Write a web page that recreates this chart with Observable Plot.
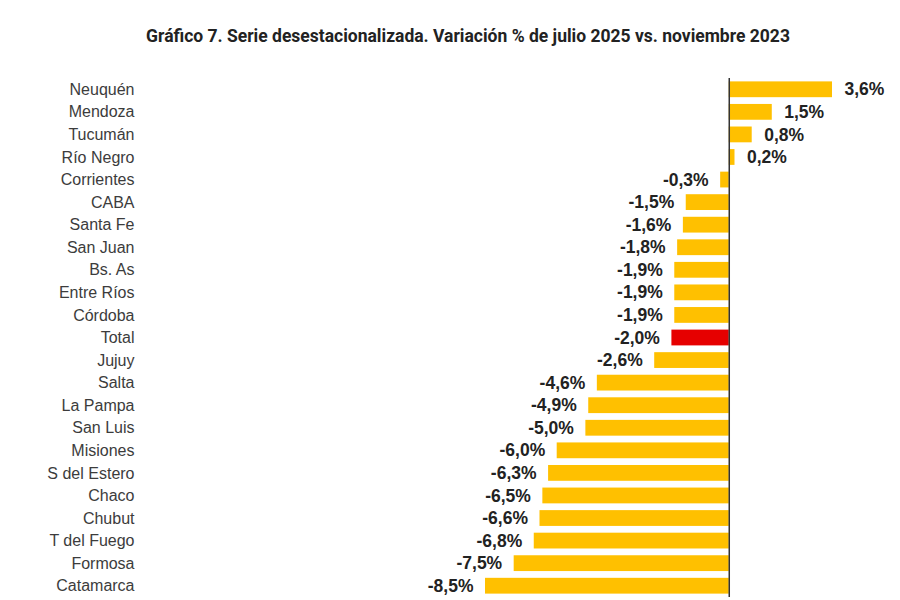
<!DOCTYPE html>
<html><head><meta charset="utf-8">
<script src="https://cdn.jsdelivr.net/npm/d3@7"></script>
<script src="https://cdn.jsdelivr.net/npm/@observablehq/plot@0.6"></script>
<style>
html,body{margin:0;background:#fff;overflow:hidden;}
#title{height:60px;box-sizing:border-box;padding-top:26px;padding-left:36px;text-align:center;font-family:"Liberation Sans Narrow","Roboto","Liberation Sans",sans-serif;font-weight:bold;font-size:17.5px;color:#222;}
#chart svg{display:block;}
</style></head>
<body>
<div id="title">Gráfico 7. Serie desestacionalizada. Variación % de julio 2025 vs. noviembre 2023</div>
<div id="chart"></div>
<script>
const provincias = ["Neuquén","Mendoza","Tucumán","Río Negro","Corrientes","CABA","Santa Fe","San Juan","Bs. As","Entre Ríos","Córdoba","Total","Jujuy","Salta","La Pampa","San Luis","Misiones","S del Estero","Chaco","Chubut","T del Fuego","Formosa","Catamarca"];
const variacion = [3.6,1.5,0.8,0.2,-0.3,-1.5,-1.6,-1.8,-1.9,-1.9,-1.9,-2.0,-2.6,-4.6,-4.9,-5.0,-6.0,-6.3,-6.5,-6.6,-6.8,-7.5,-8.5];
const data = provincias.map((p,i)=>({provincia:p, valor:variacion[i]}));
const fmt = v => v.toFixed(1).replace(".", ",") + "%";
const chart = Plot.plot({
  width: 900,
  height: 540,
  marginTop: 18,
  marginBottom: 3,
  marginLeft: 485,
  marginRight: 68,
  x: {domain: [-8.5, 3.6], axis: null},
  y: {domain: provincias, paddingInner: 0.3, paddingOuter: 0.15, round: false, label: null},
  style: {fontFamily: "'Liberation Sans', Arial, sans-serif"},
  marks: [
    Plot.axisY({tickSize: 0, tickPadding: 351, fontSize: 16, fill: "#3c3c3c", label: null}),
    Plot.barX(data, {x: "valor", y: "provincia", fill: d => d.provincia === "Total" ? "#e60000" : "#ffc000"}),
    Plot.ruleX([0], {stroke: "#333", strokeWidth: 1.5}),
    Plot.text(data.filter(d => d.valor >= 0), {x: "valor", y: "provincia", text: d => fmt(d.valor), textAnchor: "start", dx: 12, fontSize: 17.5, fontWeight: "bold", fill: "#222"}),
    Plot.text(data.filter(d => d.valor < 0), {x: "valor", y: "provincia", text: d => fmt(d.valor), textAnchor: "end", dx: -12, fontSize: 17.5, fontWeight: "bold", fill: "#222"})
  ]
});
document.getElementById("chart").append(chart);
</script>
</body></html>
